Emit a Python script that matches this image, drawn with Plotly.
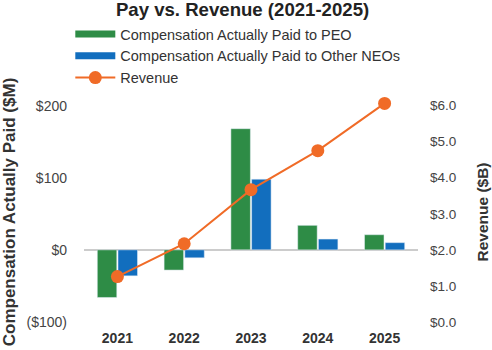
import plotly.graph_objects as go

years = ["2021", "2022", "2023", "2024", "2025"]
cap_peo = [-66, -28, 168, 34, 21]
cap_neo = [-36, -11, 98, 15, 10]
revenue = [1.26, 2.17, 3.67, 4.75, 6.06]

left_tickvals = [-100, 0, 100, 200]
left_ticktext = ["($100)", "$0", "$100", "$200"]
right_tickvals = [0, 1, 2, 3, 4, 5, 6]
right_ticktext = ["$0.0", "$1.0", "$2.0", "$3.0", "$4.0", "$5.0", "$6.0"]

GREEN = "#2e8c46"
BLUE = "#126ebe"
ORANGE = "#f06b27"
FONT = "Liberation Sans, Arial, sans-serif"

fig = go.Figure()
fig.add_trace(go.Bar(x=years, y=cap_peo, marker_color=GREEN, showlegend=False, name="Compensation Actually Paid to PEO"))
fig.add_trace(go.Bar(x=years, y=cap_neo, marker_color=BLUE, showlegend=False, name="Compensation Actually Paid to Other NEOs"))
# legend proxies (wide bar swatches)
fig.add_trace(go.Scatter(x=[None], y=[None], mode="lines", line=dict(color=GREEN, width=7), name="Compensation Actually Paid to PEO"))
fig.add_trace(go.Scatter(x=[None], y=[None], mode="lines", line=dict(color=BLUE, width=7), name="Compensation Actually Paid to Other NEOs"))
fig.add_trace(go.Scatter(x=years, y=revenue, mode="lines+markers", yaxis="y2",
                         line=dict(color=ORANGE, width=2), marker=dict(color=ORANGE, size=13),
                         name="Revenue", cliponaxis=False))

fig.update_layout(
    width=492, height=350,
    margin=dict(l=84, r=74, t=102, b=28, autoexpand=False),
    paper_bgcolor="white", plot_bgcolor="white",
    font=dict(family=FONT, color="#333", size=14),
    title=dict(text="<b>Pay vs. Revenue (2021-2025)</b>", x=0.493, xanchor="center", y=0.972, yanchor="middle",
               font=dict(size=18.6, color="#222")),
    barmode="group", bargap=0.38, bargroupgap=0.06,
    legend=dict(x=-0.041, y=1.382, xanchor="left", yanchor="top", bgcolor="rgba(0,0,0,0)",
                font=dict(size=14.5, color="#333"), tracegroupgap=0, itemwidth=40),
    xaxis=dict(showgrid=False, showline=False, tickfont=dict(size=14, color="#333", weight="bold"),
               ticks="", ticklabelstandoff=6, automargin=False),
    yaxis=dict(range=[-100, 205], tickvals=left_tickvals, ticktext=left_ticktext, showgrid=False,
               zeroline=True, zerolinecolor="#cccccc", zerolinewidth=1.5, showline=False,
               tickfont=dict(size=14, color="#444"), ticklabelstandoff=16, automargin=False,
               title=dict(text="<b>Compensation Actually Paid ($M)</b>", font=dict(size=17, color="#333"), standoff=8)),
    yaxis2=dict(range=[0, 6.1], overlaying="y", side="right", tickvals=right_tickvals, ticktext=right_ticktext,
                showgrid=False, zeroline=False, showline=False, tickfont=dict(size=13.5, color="#444"),
                ticklabelstandoff=11, automargin=False,
                title=dict(text="<b>Revenue ($B)</b>", font=dict(size=15.5, color="#333"), standoff=21)),
)

fig.write_html("out.html")
